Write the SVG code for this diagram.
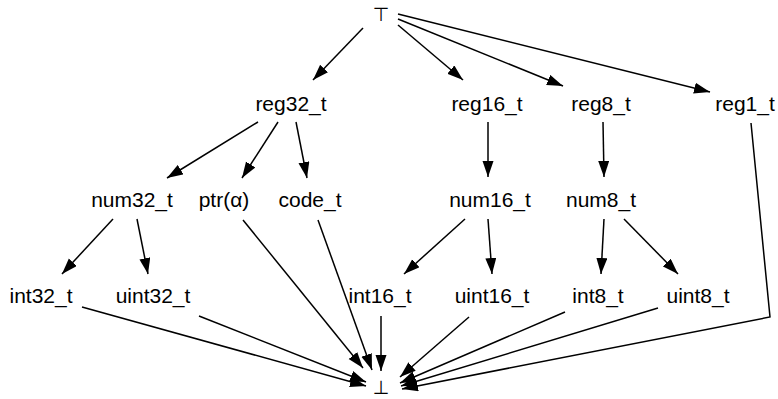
<svg xmlns="http://www.w3.org/2000/svg" width="778" height="399" viewBox="0 0 778 399">
  <style>
    .lbl { font-family: "Liberation Sans", Arial, sans-serif; font-size: 21px; fill: #000; text-anchor: middle; }
    .sym { font-family: "DejaVu Sans", sans-serif; font-size: 19px; fill: #000; text-anchor: middle; }
    .edge { stroke: #000; stroke-width: 1.5; fill: none; marker-end: url(#arrow); }
  </style>
  <defs>
    <marker id="arrow" markerUnits="userSpaceOnUse" markerWidth="17" markerHeight="12" refX="16" refY="5.5" orient="auto">
      <path d="M0,0 L16,5.5 L0,11 z" fill="#000"/>
    </marker>
  </defs>
  <rect width="778" height="399" fill="#fff"/>

  <g id="edges">
    <!-- top -> register widths -->
    <line class="edge" x1="363" y1="28" x2="313" y2="80"/>
    <line class="edge" x1="398" y1="25" x2="463" y2="80"/>
    <line class="edge" x1="398" y1="19" x2="563" y2="86"/>
    <line class="edge" x1="398" y1="14" x2="710" y2="92"/>
    <!-- reg32_t children -->
    <line class="edge" x1="258" y1="122" x2="167" y2="178"/>
    <line class="edge" x1="278" y1="122" x2="242" y2="178"/>
    <line class="edge" x1="296" y1="122" x2="307" y2="178"/>
    <!-- reg16_t / reg8_t -->
    <line class="edge" x1="488" y1="122" x2="488" y2="177"/>
    <line class="edge" x1="603" y1="122" x2="604" y2="177"/>
    <!-- numeric splits -->
    <line class="edge" x1="113" y1="219" x2="62" y2="274"/>
    <line class="edge" x1="137" y1="219" x2="148" y2="274"/>
    <line class="edge" x1="465" y1="219" x2="404" y2="274"/>
    <line class="edge" x1="488" y1="219" x2="492" y2="274"/>
    <line class="edge" x1="604" y1="219" x2="601" y2="274"/>
    <line class="edge" x1="624" y1="219" x2="678" y2="274"/>
    <!-- everything -> bottom -->
    <line class="edge" x1="82" y1="307" x2="366" y2="386"/>
    <line class="edge" x1="199" y1="316" x2="366" y2="382"/>
    <line class="edge" x1="243" y1="220" x2="363" y2="368"/>
    <line class="edge" x1="318" y1="220" x2="372" y2="370"/>
    <line class="edge" x1="381" y1="316" x2="381" y2="371"/>
    <line class="edge" x1="469" y1="317" x2="400" y2="377"/>
    <line class="edge" x1="565" y1="312" x2="400" y2="383"/>
    <line class="edge" x1="658" y1="308" x2="401" y2="386"/>
    <polyline class="edge" points="751,123 770,317 402,389"/>
  </g>

  <g id="top"><text class="sym" x="381" y="21">⊤</text></g>
  <g id="reg32_t"><text class="lbl" x="291" y="111">reg32_t</text></g>
  <g id="reg16_t"><text class="lbl" x="487" y="111">reg16_t</text></g>
  <g id="reg8_t"><text class="lbl" x="601" y="111">reg8_t</text></g>
  <g id="reg1_t"><text class="lbl" x="745" y="111">reg1_t</text></g>
  <g id="num32_t"><text class="lbl" x="132" y="207">num32_t</text></g>
  <g id="ptr"><text class="lbl" x="224" y="207">ptr(α)</text></g>
  <g id="code_t"><text class="lbl" x="310" y="207">code_t</text></g>
  <g id="num16_t"><text class="lbl" x="490" y="207">num16_t</text></g>
  <g id="num8_t"><text class="lbl" x="601" y="207">num8_t</text></g>
  <g id="int32_t"><text class="lbl" x="41" y="303">int32_t</text></g>
  <g id="uint32_t"><text class="lbl" x="153" y="303">uint32_t</text></g>
  <g id="int16_t"><text class="lbl" x="380" y="303">int16_t</text></g>
  <g id="uint16_t"><text class="lbl" x="492" y="303">uint16_t</text></g>
  <g id="int8_t"><text class="lbl" x="598" y="303">int8_t</text></g>
  <g id="uint8_t"><text class="lbl" x="698" y="303">uint8_t</text></g>
  <g id="bottom"><text class="sym" x="381" y="394">⊥</text></g>
</svg>
